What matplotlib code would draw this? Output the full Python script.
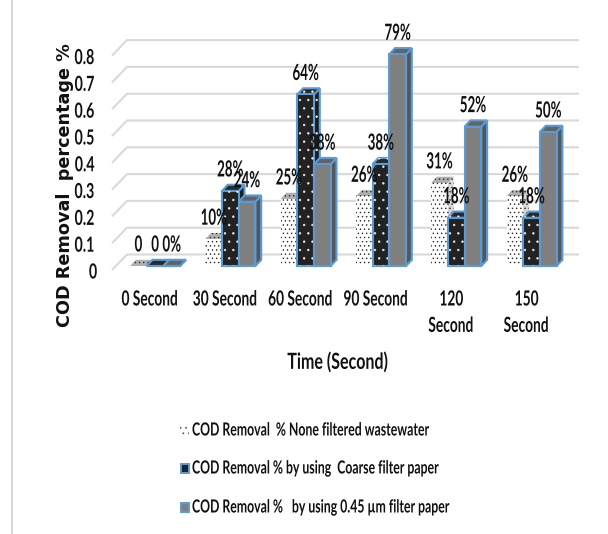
import matplotlib
matplotlib.use("Agg")
import matplotlib.pyplot as plt
from matplotlib.patches import Polygon, Rectangle
from matplotlib.patheffects import AbstractPathEffect
from matplotlib.transforms import Affine2D

categories = ["0 Second", "30 Second", "60 Second", "90 Second", "120\nSecond", "150\nSecond"]
none_filtered = [0.0, 0.10, 0.25, 0.26, 0.31, 0.26]
coarse_filter = [0.0, 0.28, 0.64, 0.38, 0.18, 0.18]
fine_filter = [0.0, 0.24, 0.38, 0.79, 0.52, 0.50]
y_ticks = [0, 0.1, 0.2, 0.3, 0.4, 0.5, 0.6, 0.7, 0.8]
tick_labels = ["0", "0.1", "0.2", "0.3", "0.4", "0.5", "0.6", "0.7", "0.8"]
none_labels = ["0", "10%", "25%", "26%", "31%", "26%"]
coarse_labels = ["0", "28%", "64%", "38%", "18%", "18%"]
fine_labels = ["0%", "24%", "38%", "79%", "52%", "50%"]
legend_labels = [
    "COD Removal  % None filtered wastewater",
    "COD Removal % by using  Coarse filter paper",
    "COD Removal %   by using 0.45 µm filter paper",
]

plt.rcParams["font.family"] = ["Lato", "DejaVu Sans"]
plt.rcParams["hatch.linewidth"] = 0.5


class Squeeze(AbstractPathEffect):
    """Narrow the glyphs along the baseline, for a condensed look."""

    def __init__(self, sx, left=False):
        super().__init__()
        self.sx = sx
        self.left = left

    def draw_path(self, renderer, gc, tpath, affine, rgbFace=None):
        box = tpath.get_extents()
        cx = 0 if self.left else (box.x0 + box.x1) / 2
        squeeze = Affine2D().translate(-cx, 0).scale(self.sx, 1).translate(cx, 0)
        renderer.draw_path(gc, tpath, squeeze + affine, rgbFace)


W, H = 608, 534
fig = plt.figure(figsize=(W / 100, H / 100), dpi=100)

# axes spans the front plane: one x unit per category, y in removal fraction
x_px, y_px = 75.3, 268.0
left_px, base_px = 130.0, 266.0
ax = fig.add_axes([0, 0, 1, 1])
ax.set_xlim(-left_px / x_px, (W - left_px) / x_px)
ax.set_ylim(-(H - base_px) / y_px, base_px / y_px)
ax.axis("off")

BAR_W = 16.7 / x_px
DX, DY = 5.8 / x_px, 6.2 / y_px
BLUE = "#5b9bd5"
INK = "#111111"


def px_x(p):
    return (p - left_px) / x_px


def px_y(p):
    return (base_px - p) / y_px


# back wall grid with the short diagonal running to the front edge
for v, label in zip(y_ticks, tick_labels):
    y_back = v + 11.5 / y_px
    y_front = v - 4.0 / y_px
    ax.plot([px_x(112), px_x(127), px_x(579)], [y_front, y_back, y_back],
            color="#d9d9d9", lw=1.5, solid_capstyle="butt", zorder=1)
    ax.text(px_x(99), y_front - 2.5 / y_px, label, ha="right", va="center", fontsize=15,
            fontweight="bold", color=INK, path_effects=[Squeeze(0.68)])


def draw_bar(x, v, face, side, top, edge, hatch=None, hatch_col=None, z=3):
    lw = 1.5 if edge != "none" else 0
    side_pts = [(x + BAR_W, 0), (x + BAR_W + DX, DY), (x + BAR_W + DX, v + DY), (x + BAR_W, v)]
    top_pts = [(x, v), (x + DX, v + DY), (x + BAR_W + DX, v + DY), (x + BAR_W, v)]
    # side and top faces first so the front covers their shared edge
    ax.add_patch(Polygon(side_pts, closed=True, facecolor=side, edgecolor=edge, lw=lw, zorder=z))
    ax.add_patch(Polygon(top_pts, closed=True, facecolor=top, edgecolor=edge, lw=lw, zorder=z))
    ax.add_patch(Rectangle((x, 0), BAR_W, v, facecolor=face, edgecolor=edge, lw=lw, zorder=z + 0.1))
    if hatch:
        ax.add_patch(Polygon(side_pts, closed=True, facecolor="none", edgecolor=hatch_col, hatch=hatch,
                             lw=0, zorder=z + 0.05))
        ax.add_patch(Polygon(top_pts, closed=True, facecolor="none", edgecolor=hatch_col, hatch=hatch,
                             lw=0, zorder=z + 0.05))
        ax.add_patch(Rectangle((x, 0), BAR_W, v, facecolor="none", edgecolor=hatch_col, hatch=hatch,
                               lw=0, zorder=z + 0.2))


series = [
    (none_filtered, none_labels, "white", "#d8d8d8", "#b0b0b0", "none", "....", "#2a2a2a"),
    (coarse_filter, coarse_labels, "#222222", "#1c1c1c", "#2a2a2a", BLUE, "..", "#e8e8e8"),
    (fine_filter, fine_labels, "#7f7f7f", "#565656", "#636363", BLUE, None, None),
]
for k, (values, labels, face, side, top, edge, hatch, hatch_col) in enumerate(series):
    for i, v in enumerate(values):
        x = i + k * BAR_W
        draw_bar(x, v, face, side, top, edge, hatch, hatch_col, z=3 + k)
        # value label centred over the front face
        ax.text(x + BAR_W / 2, v + 21.0 / y_px, labels[i], ha="center", va="center", fontsize=16,
                fontweight="bold", color=INK, zorder=8, path_effects=[Squeeze(0.6)])

# category labels under the floor
for i, name in enumerate(categories):
    ax.text(i + 20.0 / x_px, px_y(289.5), name, ha="center", va="top", fontsize=15, fontweight="bold",
            color=INK, linespacing=1.4, path_effects=[Squeeze(0.66)])

ax.text(px_x(338), px_y(362), "Time (Second)", ha="center", va="center", fontsize=16,
        fontweight="bold", color=INK, path_effects=[Squeeze(0.72)])
ax.text(px_x(65), px_y(185), "COD Removal  percentage %", rotation=90, ha="center", va="center",
        fontsize=12.7, fontweight="bold", family=["DejaVu Sans"], color=INK)

# legend drawn by hand, one swatch per row
legend_y = [430, 468, 507]
faces = ["white", "#222222", "#7f7f7f"]
edges = ["none", BLUE, BLUE]
for j, label in enumerate(legend_labels):
    yc = px_y(legend_y[j])
    if j == 0:
        ax.add_patch(Rectangle((px_x(180), yc - 4.5 / y_px), 9.0 / x_px, 9.0 / y_px, facecolor="white",
                               edgecolor="#555555", lw=0, hatch="...", zorder=3))
    else:
        ax.add_patch(Rectangle((px_x(180.5), yc - 4.5 / y_px), 8.5 / x_px, 9.0 / y_px, facecolor=faces[j],
                               edgecolor=edges[j], lw=1.4, zorder=3))
    ax.text(px_x(192), yc, label, ha="left", va="center", fontsize=13, fontweight="bold", color=INK,
            path_effects=[Squeeze(0.68, left=True)])

# outer frame rule at the left of the chart area
ax.plot([px_x(12), px_x(12)], [px_y(0), px_y(H)], color="#d9d9d9", lw=1.5)

fig.savefig("out.png", dpi=100, facecolor="white")
